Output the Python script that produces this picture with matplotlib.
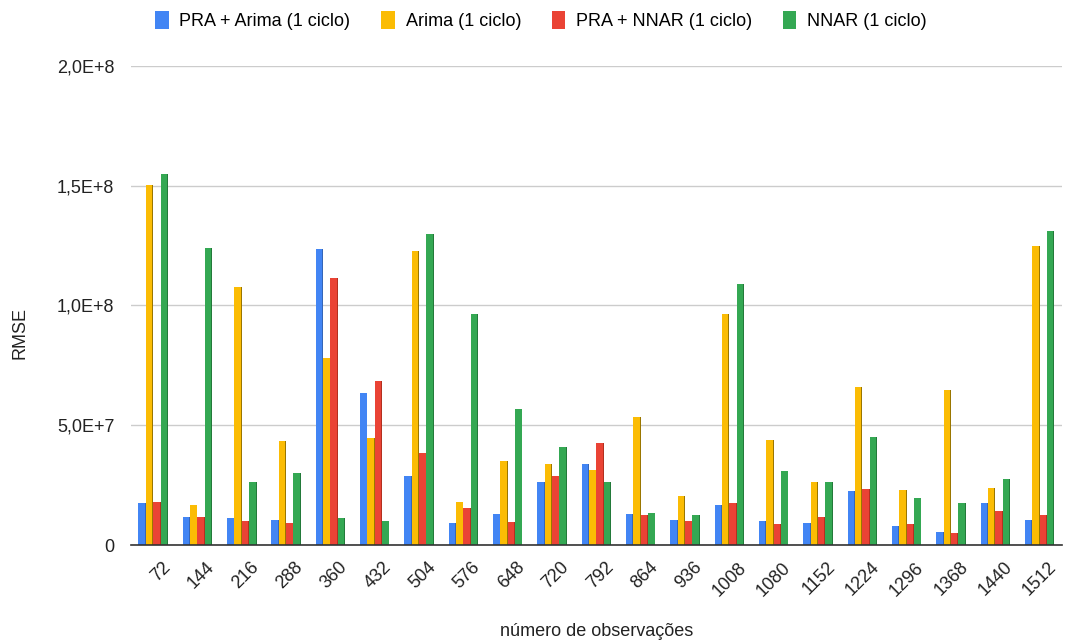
import matplotlib
matplotlib.use("Agg")
import matplotlib.pyplot as plt
import matplotlib.transforms as mtransforms
import numpy as np

plt.rcParams['font.family'] = ['Liberation Sans', 'DejaVu Sans']

# número de observações
categories = ['72', '144', '216', '288', '360', '432', '504', '576', '648', '720',
              '792', '864', '936', '1008', '1080', '1152', '1224', '1296', '1368',
              '1440', '1512']

# RMSE values (in units of 1E7)
pra_arima = [1.75, 1.17, 1.13, 1.04, 12.36, 6.35, 2.88, 0.92, 1.29, 2.63,
             3.38, 1.29, 1.05, 1.67, 1.00, 0.92, 2.25, 0.80, 0.54, 1.75, 1.04]
arima = [15.05, 1.67, 10.77, 4.34, 7.80, 4.47, 12.27, 1.80, 3.50, 3.38,
         3.13, 5.34, 2.05, 9.64, 4.38, 2.63, 6.60, 2.30, 6.47, 2.38, 12.48]
pra_nnar = [1.80, 1.17, 1.00, 0.92, 11.15, 6.85, 3.84, 1.55, 0.96, 2.88,
            4.26, 1.25, 1.00, 1.75, 0.88, 1.17, 2.34, 0.88, 0.50, 1.42, 1.25]
nnar = [15.50, 12.40, 2.63, 3.00, 1.13, 1.00, 12.98, 9.64, 5.68, 4.09,
        2.63, 1.33, 1.25, 10.90, 3.09, 2.63, 4.51, 1.96, 1.75, 2.76, 13.10]

series_names = ['PRA + Arima (1 ciclo)', 'Arima (1 ciclo)',
                'PRA + NNAR (1 ciclo)', 'NNAR (1 ciclo)']
colors = ['#4285F4', '#FBBC04', '#EA4335', '#34A853']
edge_colors = ['#3566b8', '#9a7600', '#b3301f', '#237a3a']

ytick_vals = [0, 5e7, 1e8, 1.5e8, 2e8]
ytick_labels = ['0', '5,0E+7', '1,0E+8', '1,5E+8', '2,0E+8']


def main():
    fig = plt.figure(figsize=(10.65, 6.43), dpi=100)
    ax = fig.add_axes([0.123, 0.1524, 0.874, 0.745])

    x = np.arange(len(categories))
    w = 0.166
    data = [pra_arima, arima, pra_nnar, nnar]
    for i, (vals, c, ec, name) in enumerate(zip(data, colors, edge_colors, series_names)):
        v = np.array(vals) * 1e7
        pos = x + (i - 1.5) * w
        ax.bar(pos, v, width=w, color=c, label=name, zorder=3, linewidth=0)
        # darker right edge for the slight 3D look
        ax.bar(pos + w * 0.44, v, width=w * 0.12, color=ec, zorder=4, linewidth=0)

    ax.set_xlim(-0.5, len(categories) - 0.5)
    ax.set_ylim(0, 2e8)
    ax.set_yticks(ytick_vals)
    ax.set_yticklabels(ytick_labels, fontsize=13, color='#222222')
    ax.set_xticks(x)
    ax.set_xticklabels(categories, rotation=45, ha='right', rotation_mode='anchor',
                       fontsize=13, color='#222222')
    ax.tick_params(axis='both', length=0)
    ax.tick_params(axis='x', pad=10)
    ax.tick_params(axis='y', pad=12)

    # nudge rotated labels a little to the right, as in the original
    offset = mtransforms.ScaledTranslation(6 / 72, 0, fig.dpi_scale_trans)
    for lab in ax.get_xticklabels():
        lab.set_transform(lab.get_transform() + offset)

    ax.grid(axis='y', color='#cccccc', linewidth=1, zorder=0)
    for s in ['top', 'right', 'left']:
        ax.spines[s].set_visible(False)
    ax.spines['bottom'].set_color('#333333')
    ax.spines['bottom'].set_linewidth(1.2)
    ax.spines['bottom'].set_zorder(5)

    fig.text(20 / 1065, 1 - 333 / 643, 'RMSE', rotation=90, fontsize=13,
             color='#222222', ha='center', va='center')
    fig.text(597 / 1065, 1 - 632 / 643, 'número de observações', fontsize=13,
             color='#222222', ha='center', va='center')

    h, l = ax.get_legend_handles_labels()
    fig.legend(h[:4], l[:4], loc='center', bbox_to_anchor=(0.508, 0.968), ncol=4,
               frameon=False, fontsize=13, handlelength=0.75, handleheight=1.2,
               handletextpad=0.6, columnspacing=1.7)

    fig.savefig('out.png', dpi=100)


if __name__ == "__main__":
    main()
